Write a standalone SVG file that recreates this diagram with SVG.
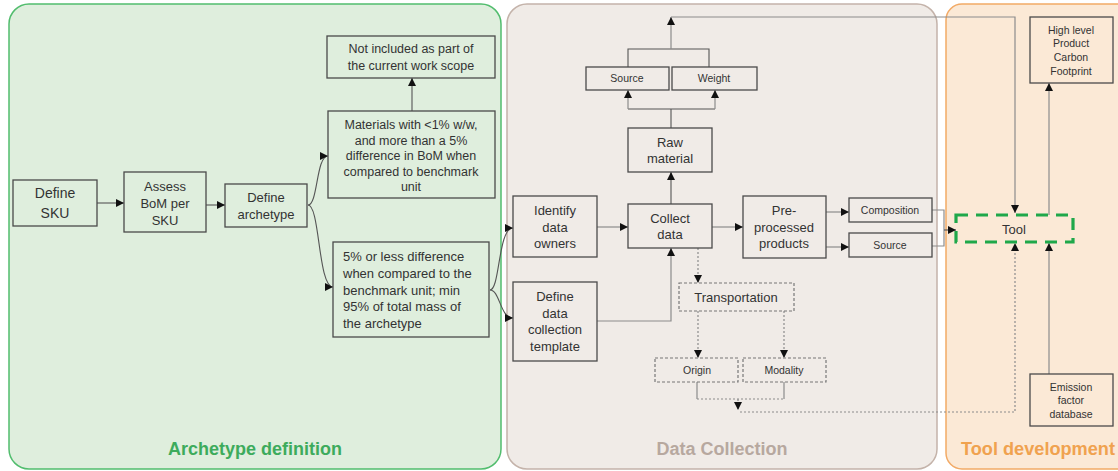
<svg xmlns="http://www.w3.org/2000/svg" width="1118" height="471" viewBox="0 0 1118 471">
<defs>
<marker id="arr" markerUnits="userSpaceOnUse" markerWidth="9" markerHeight="8" refX="8" refY="4" orient="auto">
<path d="M0,0 L8,4 L0,8 Z" fill="#111"/>
</marker>
<style>
.box{fill:none;stroke:#4a4a4a;stroke-width:1.3}
.dbox{fill:none;stroke:#777;stroke-width:1.2;stroke-dasharray:3,2}
.t{font-family:"Liberation Sans",Arial,sans-serif;fill:#333;text-anchor:middle}
.tl{font-family:"Liberation Sans",Arial,sans-serif;fill:#333;text-anchor:start}
.c{fill:none;stroke:#555;stroke-width:1.1}
.cg{fill:none;stroke:#8c8c8c;stroke-width:1.2}
.cd{fill:none;stroke:#8c8c8c;stroke-width:1.2;stroke-dasharray:2,2}
.title{font-family:"Liberation Sans",Arial,sans-serif;font-weight:bold;font-size:18px;text-anchor:middle}
</style>
</defs>

<g id="panels">
<rect x="9" y="4" width="492" height="465" rx="20" fill="#dfeedd" stroke="#52bd6e" stroke-width="1.5"/>
<rect x="507" y="4" width="430" height="465" rx="20" fill="#f0ebe7" stroke="#c4b3aa" stroke-width="1.5"/>
<rect x="946" y="4" width="190" height="465" rx="16" fill="#fbe9d6" stroke="#f2aa66" stroke-width="1.5"/>
<text class="title" x="255" y="455" fill="#3dab5c">Archetype definition</text>
<text class="title" x="722" y="455" fill="#b7a89f">Data Collection</text>
<text class="title" x="1038" y="455" fill="#f0a24f" textLength="154" lengthAdjust="spacingAndGlyphs">Tool development</text>
</g>

<g id="connectors">
<path class="c" d="M97,203 H124" marker-end="url(#arr)"/>
<path class="c" d="M206,205 H225" marker-end="url(#arr)"/>
<path class="c" d="M308,205 C318,205 316,156 328,156" marker-end="url(#arr)"/>
<path class="c" d="M308,205 C320,205 318,287 333,287" marker-end="url(#arr)"/>
<path class="c" d="M412,111 V78" marker-end="url(#arr)"/>
<path class="c" d="M490,290 C500,290 498,228 513,228" marker-end="url(#arr)"/>
<path class="c" d="M490,290 C500,290 500,318 513,318" marker-end="url(#arr)"/>
<path class="cg" d="M597,227 H628" marker-end="url(#arr)"/>
<path class="cg" d="M597,321 H671 V248" marker-end="url(#arr)"/>
<path class="c" d="M671,204 V172" marker-end="url(#arr)"/>
<path class="c" d="M671,128 V109 M628,109 H715"/>
<path class="cg" d="M628,109 V90" marker-end="url(#arr)"/>
<path class="cg" d="M715,109 V90" marker-end="url(#arr)"/>
<path class="c" d="M628,67 V49 H709 V67"/>
<path class="cg" d="M671,49 V17" marker-end="url(#arr)"/>
<path class="cg" d="M671,17 H1015 V213" marker-end="url(#arr)"/>
<path class="cg" d="M712,227 H743" marker-end="url(#arr)"/>
<path class="cg" d="M826,212 H849" marker-end="url(#arr)"/>
<path class="cg" d="M826,247 H849" marker-end="url(#arr)"/>
<path class="cg" d="M932,210 H944 V246 H932"/>
<path class="c" d="M944,230 H956" marker-end="url(#arr)"/>
<path class="cd" d="M698,248 V283" marker-end="url(#arr)"/>
<path class="cd" d="M698,311 V358" marker-end="url(#arr)"/>
<path class="cd" d="M784,311 V358" marker-end="url(#arr)"/>
<path class="cg" d="M697,382 V399 M784,382 V399"/>
<path class="cd" d="M697,399 H784"/>
<path class="cd" d="M738,399 V410" marker-end="url(#arr)"/>
<path class="cd" d="M740,412 H1015 V243" marker-end="url(#arr)"/>
<path class="cg" d="M1049,215 V83" marker-end="url(#arr)"/>
<path class="cg" d="M1049,374 V243" marker-end="url(#arr)"/>
</g>

<g id="define-sku">
<rect class="box" x="13" y="180" width="84" height="46"/>
<text class="t" font-size="14" x="55" y="198">Define</text>
<text class="t" font-size="14" x="55" y="218">SKU</text>
</g>
<g id="assess-bom">
<rect class="box" x="124" y="172" width="82" height="60"/>
<text class="t" font-size="13" x="165" y="191">Assess</text>
<text class="t" font-size="13" x="165" y="208">BoM per</text>
<text class="t" font-size="13" x="165" y="225">SKU</text>
</g>
<g id="define-archetype">
<rect class="box" x="225" y="184" width="82" height="43"/>
<text class="t" font-size="13" x="266" y="202">Define</text>
<text class="t" font-size="13" x="266" y="219">archetype</text>
</g>
<g id="not-included">
<rect class="box" x="327" y="36" width="168" height="42"/>
<text class="t" font-size="12.5" x="411" y="53">Not included as part of</text>
<text class="t" font-size="12.5" x="411" y="70">the current work scope</text>
</g>
<g id="materials">
<rect class="box" x="328" y="111" width="167" height="87"/>
<text class="t" font-size="12.5" x="411" y="129">Materials with &lt;1% w/w,</text>
<text class="t" font-size="12.5" x="411" y="145">and more than a 5%</text>
<text class="t" font-size="12.5" x="411" y="160">difference in BoM when</text>
<text class="t" font-size="12.5" x="411" y="176">compared to benchmark</text>
<text class="t" font-size="12.5" x="411" y="191">unit</text>
</g>
<g id="five-percent">
<rect class="box" x="333" y="242" width="156" height="95"/>
<text class="tl" font-size="13" x="343" y="261">5% or less difference</text>
<text class="tl" font-size="13" x="343" y="278">when compared to the</text>
<text class="tl" font-size="13" x="343" y="295">benchmark unit; min</text>
<text class="tl" font-size="13" x="343" y="311">95% of total mass of</text>
<text class="tl" font-size="13" x="343" y="328">the archetype</text>
</g>

<g id="identify-owners">
<rect class="box" x="513" y="196" width="84" height="61"/>
<text class="t" font-size="13" x="555" y="215">Identify</text>
<text class="t" font-size="13" x="555" y="232">data</text>
<text class="t" font-size="13" x="555" y="248">owners</text>
</g>
<g id="define-template">
<rect class="box" x="513" y="282" width="84" height="79"/>
<text class="t" font-size="13" x="555" y="301">Define</text>
<text class="t" font-size="13" x="555" y="318">data</text>
<text class="t" font-size="13" x="555" y="334">collection</text>
<text class="t" font-size="13" x="555" y="351">template</text>
</g>
<g id="collect-data">
<rect class="box" x="628" y="204" width="84" height="44"/>
<text class="t" font-size="13" x="670" y="223">Collect</text>
<text class="t" font-size="13" x="670" y="239">data</text>
</g>
<g id="raw-material">
<rect class="box" x="628" y="128" width="84" height="44"/>
<text class="t" font-size="13" x="670" y="147">Raw</text>
<text class="t" font-size="13" x="670" y="163">material</text>
</g>
<g id="source-top">
<rect class="box" x="586" y="67" width="83" height="23"/>
<text class="t" font-size="10.5" x="627" y="82">Source</text>
</g>
<g id="weight">
<rect class="box" x="672" y="67" width="85" height="23"/>
<text class="t" font-size="10.5" x="714" y="82">Weight</text>
</g>
<g id="preprocessed">
<rect class="box" x="743" y="196" width="83" height="62"/>
<text class="t" font-size="13" x="784" y="215">Pre-</text>
<text class="t" font-size="13" x="784" y="232">processed</text>
<text class="t" font-size="13" x="784" y="248">products</text>
</g>
<g id="composition">
<rect class="box" x="849" y="198" width="83" height="24"/>
<text class="t" font-size="10.5" x="890" y="214">Composition</text>
</g>
<g id="source-right">
<rect class="box" x="849" y="233" width="83" height="24"/>
<text class="t" font-size="10.5" x="890" y="249">Source</text>
</g>
<g id="transportation">
<rect class="dbox" x="679" y="283" width="115" height="28"/>
<text class="t" font-size="13" x="736" y="302">Transportation</text>
</g>
<g id="origin">
<rect class="dbox" x="655" y="358" width="83" height="24"/>
<text class="t" font-size="10.5" x="697" y="374">Origin</text>
</g>
<g id="modality">
<rect class="dbox" x="743" y="358" width="83" height="24"/>
<text class="t" font-size="10.5" x="784" y="374">Modality</text>
</g>

<g id="tool">
<rect x="956" y="215" width="117" height="27" fill="none" stroke="#1fa84a" stroke-width="3.2" stroke-dasharray="12,8"/>
<text class="t" font-size="13" x="1014" y="234">Tool</text>
</g>
<g id="high-level-pcf">
<rect class="box" x="1030" y="17" width="83" height="66"/>
<text class="t" font-size="10.5" x="1071" y="34">High level</text>
<text class="t" font-size="10.5" x="1071" y="47">Product</text>
<text class="t" font-size="10.5" x="1071" y="61">Carbon</text>
<text class="t" font-size="10.5" x="1071" y="75">Footprint</text>
</g>
<g id="emission-factor">
<rect class="box" x="1030" y="374" width="83" height="52"/>
<text class="t" font-size="10.5" x="1071" y="391">Emission</text>
<text class="t" font-size="10.5" x="1071" y="404">factor</text>
<text class="t" font-size="10.5" x="1071" y="418">database</text>
</g>
</svg>
